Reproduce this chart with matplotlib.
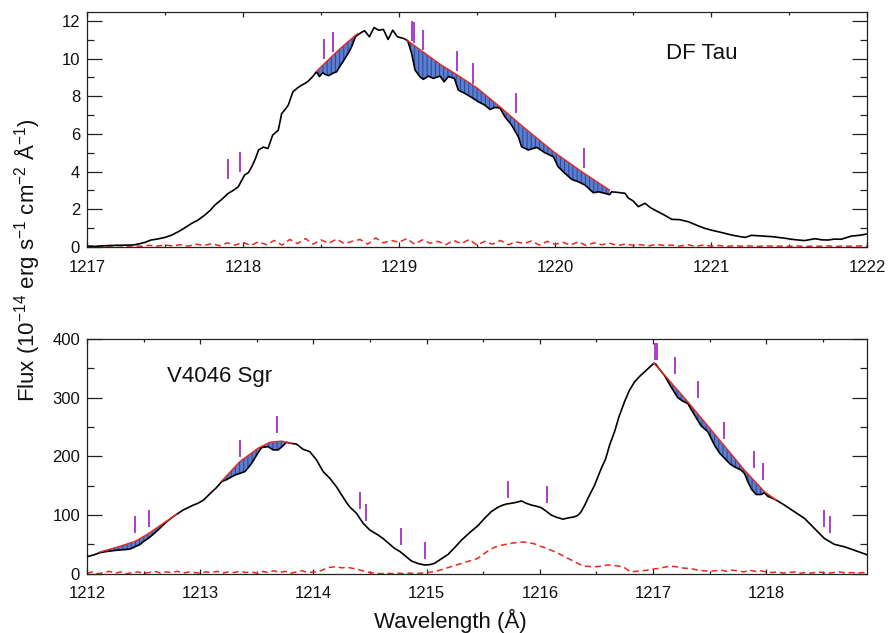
import numpy as np
import matplotlib
matplotlib.use("Agg")
import matplotlib.pyplot as plt

plt.rcParams["font.family"] = ["Liberation Sans", "DejaVu Sans"]
plt.rcParams["mathtext.default"] = "regular"
plt.rcParams["hatch.linewidth"] = 0.7

# ---------------- DF Tau (upper panel) ----------------
df_wave = [
    1217.00, 1217.05, 1217.10, 1217.15, 1217.20, 1217.25, 1217.30, 1217.33, 1217.37, 1217.41,
    1217.45, 1217.50, 1217.54, 1217.585, 1217.62, 1217.67, 1217.71, 1217.756, 1217.79, 1217.82,
    1217.86, 1217.906, 1217.94, 1217.97, 1218.01, 1218.035, 1218.056, 1218.08, 1218.10, 1218.13,
    1218.16, 1218.19, 1218.226, 1218.248, 1218.27, 1218.29, 1218.32, 1218.35, 1218.376, 1218.40,
    1218.42, 1218.45, 1218.47, 1218.49, 1218.51, 1218.53, 1218.55, 1218.575, 1218.60, 1218.62,
    1218.64, 1218.66, 1218.68, 1218.70, 1218.72, 1218.735, 1218.76, 1218.78, 1218.81, 1218.84,
    1218.87, 1218.90, 1218.93, 1218.96, 1218.99, 1219.03, 1219.056, 1219.081, 1219.103, 1219.135,
    1219.156, 1219.188, 1219.22, 1219.263, 1219.29, 1219.316, 1219.355, 1219.38, 1219.423, 1219.466,
    1219.508, 1219.551, 1219.583, 1219.615, 1219.647, 1219.679, 1219.722, 1219.765, 1219.786, 1219.829,
    1219.883, 1219.936, 1219.99, 1220.02, 1220.064, 1220.107, 1220.15, 1220.192, 1220.246, 1220.278,
    1220.32, 1220.35, 1220.363, 1220.40, 1220.449, 1220.47, 1220.50, 1220.534, 1220.577, 1220.61,
    1220.64, 1220.70, 1220.748, 1220.80, 1220.855, 1220.91, 1220.96, 1221.00, 1221.047, 1221.09,
    1221.13, 1221.18, 1221.218, 1221.26, 1221.30, 1221.346, 1221.39, 1221.43, 1221.47, 1221.517,
    1221.56, 1221.60, 1221.667, 1221.71, 1221.75, 1221.79, 1221.835, 1221.87, 1221.90, 1221.95,
    1222.00,
]
df_flux = [
    0.04, 0.03, 0.06, 0.08, 0.09, 0.10, 0.11, 0.16, 0.24, 0.37,
    0.42, 0.51, 0.62, 0.81, 0.98, 1.25, 1.42, 1.70, 1.95, 2.23,
    2.50, 2.85, 3.02, 3.20, 3.82, 3.95, 4.26, 4.70, 5.15, 5.30,
    5.23, 5.94, 6.20, 7.09, 7.30, 7.53, 8.24, 8.45, 8.59, 8.70,
    8.82, 9.08, 9.30, 9.05, 9.25, 9.15, 9.10, 9.22, 9.30, 9.58,
    9.83, 10.10, 10.36, 10.70, 11.16, 11.25, 11.40, 11.48, 11.16, 11.65,
    11.51, 11.55, 11.02, 11.51, 11.16, 11.07, 10.95, 10.27, 9.39, 9.03,
    8.90, 9.07, 8.95, 9.07, 8.77, 9.05, 8.95, 8.33, 8.15, 7.94,
    7.71, 7.53, 7.30, 7.41, 7.38, 6.91, 6.47, 5.85, 5.32, 5.15,
    5.29, 5.00, 4.79, 4.26, 3.91, 3.59, 3.46, 3.29, 2.88, 2.93,
    2.85, 2.78, 2.93, 2.90, 2.85, 2.60, 2.45, 2.14, 2.32, 2.10,
    1.96, 1.70, 1.47, 1.45, 1.34, 1.15, 0.99, 0.90, 0.81, 0.72,
    0.64, 0.56, 0.51, 0.62, 0.60, 0.58, 0.55, 0.51, 0.47, 0.41,
    0.37, 0.34, 0.44, 0.38, 0.37, 0.42, 0.41, 0.50, 0.58, 0.62,
    0.69,
]

# reconstructed (unabsorbed) profile segments
df_fit_a_wave = [1218.47, 1218.54, 1218.60, 1218.67, 1218.735]
df_fit_a_flux = [9.32, 9.88, 10.36, 10.88, 11.33]
df_fit_b_wave = [1219.056, 1219.26, 1219.37, 1219.50, 1219.65, 1219.80, 1220.00, 1220.18, 1220.35]
df_fit_b_flux = [10.95, 9.72, 9.15, 8.45, 7.42, 6.35, 5.00, 3.95, 3.02]

# H2 line positions and the flux level at the foot of each marker
df_lines_wave = [1217.906, 1217.983, 1218.521, 1218.575, 1219.085, 1219.097,
                 1219.156, 1219.37, 1219.477, 1219.748, 1220.186]
df_lines_base = [3.59, 4.00, 9.97, 10.35, 10.95, 10.85, 10.45, 9.35, 8.68, 7.09, 4.17]

# 1-sigma uncertainty, 1217.00 -> 1222.00 in 0.05 A steps
df_err = [
    0.03, 0.06, 0.02, 0.05, 0.08, 0.03, 0.06, 0.04, 0.09, 0.05, 0.10,
    0.06, 0.12, 0.05, 0.15, 0.08, 0.18, 0.07, 0.22, 0.10, 0.25,
    0.08, 0.28, 0.12, 0.35, 0.10, 0.40, 0.18, 0.45, 0.15, 0.38,
    0.20, 0.42, 0.18, 0.30, 0.40, 0.15, 0.48, 0.22, 0.35, 0.25,
    0.45, 0.15, 0.38, 0.20, 0.30, 0.12, 0.35, 0.18, 0.40, 0.10,
    0.30, 0.15, 0.35, 0.12, 0.28, 0.18, 0.32, 0.10, 0.30, 0.14,
    0.25, 0.10, 0.28, 0.08, 0.22, 0.12, 0.20, 0.08, 0.15, 0.10,
    0.12, 0.06, 0.14, 0.08, 0.10, 0.05, 0.12, 0.04, 0.10, 0.05,
    0.08, 0.03, 0.07, 0.04, 0.06, 0.03, 0.07, 0.04, 0.05, 0.03,
    0.06, 0.03, 0.05, 0.04, 0.06, 0.03, 0.05, 0.04, 0.06, 0.05,
]
df_err_wave = np.linspace(1217.0, 1222.0, len(df_err))

# ---------------- V4046 Sgr (lower panel) ----------------
v_wave = [
    1212.00, 1212.06, 1212.115, 1212.18, 1212.262, 1212.33, 1212.38, 1212.424, 1212.47, 1212.50,
    1212.54, 1212.59, 1212.63, 1212.70, 1212.76, 1212.79, 1212.85, 1212.94, 1212.98, 1213.03,
    1213.09, 1213.14, 1213.19, 1213.23, 1213.306, 1213.35, 1213.395, 1213.43, 1213.454, 1213.498,
    1213.542, 1213.60, 1213.644, 1213.688, 1213.72, 1213.762, 1213.806, 1213.85, 1213.909, 1213.968,
    1214.027, 1214.086, 1214.145, 1214.204, 1214.29, 1214.32, 1214.38, 1214.439, 1214.498, 1214.571,
    1214.615, 1214.718, 1214.763, 1214.866, 1214.93, 1214.983, 1215.03, 1215.07, 1215.12, 1215.19,
    1215.25, 1215.307, 1215.38, 1215.454, 1215.51, 1215.572, 1215.62, 1215.66, 1215.71, 1215.748,
    1215.80, 1215.837, 1215.88, 1215.925, 1215.97, 1216.013, 1216.06, 1216.10, 1216.15, 1216.204,
    1216.25, 1216.307, 1216.34, 1216.366, 1216.40, 1216.425, 1216.484, 1216.543, 1216.58, 1216.616,
    1216.66, 1216.70, 1216.748, 1216.79, 1216.837, 1216.88, 1216.925, 1216.96, 1217.007, 1217.025,
    1217.043, 1217.101, 1217.16, 1217.219, 1217.263, 1217.307, 1217.366, 1217.425, 1217.484, 1217.543,
    1217.59, 1217.631, 1217.68, 1217.72, 1217.778, 1217.81, 1217.837, 1217.87, 1217.911, 1217.955,
    1217.984, 1218.013, 1218.05, 1218.087, 1218.16, 1218.249, 1218.337, 1218.425, 1218.514, 1218.602,
    1218.69, 1218.778, 1218.88, 1218.90,
]
v_flux = [
    29, 32, 36, 38, 40, 41, 42, 46, 50, 55,
    60, 68, 75, 88, 97, 101, 108.6, 117, 120, 125.6,
    137, 146, 157, 160, 168, 171, 174, 182, 188, 202,
    215, 216.5, 211, 211, 216, 224, 222, 221, 212, 208,
    194, 174, 162.6, 148, 122, 114, 103, 86, 74.5, 66,
    60, 43, 38, 21.6, 17, 14.8, 15.5, 17.7, 24, 33,
    45, 57, 70, 82, 94, 106, 112, 116, 119, 120,
    122, 124, 120, 117, 115, 112.5, 106, 100, 96, 93,
    95, 97, 100, 106, 118, 128.5, 151, 179.6, 195, 219,
    242, 268, 293, 312, 327, 336, 344, 350, 358.6, 357,
    352, 338, 318, 300, 294, 290, 270.5, 252, 242, 219,
    205, 196.7, 187, 182, 176.7, 170, 157, 144, 135, 135,
    138, 132, 129, 125.6, 117, 105.7, 94.4, 77.4, 60, 50,
    46, 40, 33, 31,
]

v_fit_a_wave = [1212.115, 1212.262, 1212.424, 1212.54, 1212.63, 1212.79]
v_fit_a_flux = [37, 45, 55, 68, 80, 101]
v_fit_b_wave = [1213.19, 1213.35, 1213.51, 1213.615, 1213.718, 1213.806]
v_fit_b_flux = [158, 191, 213.7, 224, 226, 222]
v_fit_c_wave = [1217.007, 1217.05, 1217.307, 1217.60, 1217.807, 1217.984, 1218.087]
v_fit_c_flux = [358.6, 350, 293, 225, 176.7, 139.8, 125.6]

v_lines_wave = [1212.424, 1212.544, 1213.35, 1213.674, 1214.415, 1214.462, 1214.777,
                1214.99, 1215.719, 1216.063, 1217.02, 1217.035, 1217.196, 1217.399,
                1217.631, 1217.89, 1217.97, 1218.508, 1218.56]
v_lines_base = [70, 80, 199.4, 239.3, 109.7, 89.3, 49.4,
                24.5, 129.5, 120, 365, 365, 340, 300,
                229.6, 179.6, 160, 80, 70]

# 1-sigma uncertainty, 1212.00 -> 1218.90 in 0.05 A steps
v_err = [
    1, 3, 0, 2, 4, 1, 3, 0, 2, 3, 1,
    2, 4, 1, 3, 2, 4, 1, 3, 2, 1,
    3, 2, 4, 1, 3, 2, 4, 2, 3, 1,
    4, 2, 5, 2, 4, 1, 3, 5, 2, 3,
    4, 8, 11, 12, 10, 11, 9, 7, 4, 2,
    1, 0, 1, 0, 1, 0, 1, 0, 1, 2,
    3, 5, 8, 11, 14, 17, 20, 23, 26, 33,
    40, 45, 48, 50, 52, 53, 54, 53, 51, 47,
    44, 40, 36, 31, 26, 21, 16, 13, 12, 12,
    13, 15, 14, 13, 10, 3, 4, 5, 6, 8,
    9, 11, 13, 12, 10, 9, 8, 6, 5, 4,
    5, 6, 4, 6, 5, 3, 6, 4, 5, 3,
    2, 3, 1, 2, 3, 1, 2, 1, 3, 2,
    1, 2, 3, 1, 2, 1, 2, 1,
]
v_err_wave = np.linspace(1212.0, 1218.9, len(v_err))

# ---------------- styling ----------------
FILL_FACE = "#5a7ed2"
FILL_HATCH = "#2c4590"
FIT_RED = "#e8281e"
ERR_RED = "#e8281e"
LINE_PURPLE = "#a52ec8"

W, H = 889, 633
fig = plt.figure(figsize=(W / 100, H / 100), dpi=100)
ax1 = fig.add_axes([87 / W, 1 - 247 / H, 780 / W, (247 - 12.3) / H])
ax2 = fig.add_axes([87 / W, 1 - 573.7 / H, 780 / W, (573.7 - 339) / H])


def shade(ax, wave, flux, fit_wave, fit_flux):
    wave = np.asarray(wave, float)
    flux = np.asarray(flux, float)
    fw = np.asarray(fit_wave, float)
    ff = np.asarray(fit_flux, float)
    inside = (wave >= fw[0]) & (wave <= fw[-1])
    xs = np.union1d(wave[inside], fw)
    d = np.interp(xs, wave, flux)
    f = np.interp(xs, fw, ff)
    ax.fill_between(xs, d, f, where=d <= f, interpolate=True, facecolor=FILL_FACE,
                    edgecolor=FILL_HATCH, hatch="||||", linewidth=0, zorder=1)
    ax.plot(fw, ff, color=FIT_RED, lw=1.0, zorder=4)


def draw_panel(ax, wave, flux, fits, err_wave, err, lines_wave, lines_base, mark_len):
    ax.plot(err_wave, err, color=ERR_RED, lw=1.1, dashes=(4, 2.5), zorder=2)
    for fw, ff in fits:
        shade(ax, wave, flux, fw, ff)
    ax.plot(wave, flux, color="black", lw=1.2, zorder=3)
    base = np.asarray(lines_base, float)
    ax.vlines(lines_wave, base, base + mark_len, color=LINE_PURPLE, lw=1.3, zorder=5)


draw_panel(ax1, df_wave, df_flux,
           [(df_fit_a_wave, df_fit_a_flux), (df_fit_b_wave, df_fit_b_flux)],
           df_err_wave, df_err, df_lines_wave, df_lines_base, 1.07)
draw_panel(ax2, v_wave, v_flux,
           [(v_fit_a_wave, v_fit_a_flux), (v_fit_b_wave, v_fit_b_flux),
            (v_fit_c_wave, v_fit_c_flux)],
           v_err_wave, v_err, v_lines_wave, v_lines_base, 29)

ax1.set_xlim(1217, 1222)
ax1.set_ylim(0, 12.46)
ax1.set_xticks(np.arange(1217, 1222.5, 1))
ax1.set_xticks(np.arange(1217, 1222.01, 0.5), minor=True)
ax1.set_yticks(np.arange(0, 12.5, 2))
ax1.set_yticks(np.arange(0, 12.5, 1), minor=True)

ax2.set_xlim(1212, 1218.89)
ax2.set_ylim(0, 400)
ax2.set_xticks(np.arange(1212, 1219, 1))
ax2.set_xticks(np.arange(1212, 1218.9, 0.5), minor=True)
ax2.set_yticks(np.arange(0, 401, 100))
ax2.set_yticks(np.arange(0, 401, 50), minor=True)

for ax in (ax1, ax2):
    for s in ax.spines.values():
        s.set_linewidth(0.9)
        s.set_color("#222222")
    ax.tick_params(axis="both", which="both", direction="in", top=True, right=True,
                   colors="#222222", labelcolor="#111111", labelsize=12, width=0.9)
    ax.tick_params(axis="x", which="major", length=3.6, pad=9)
    ax.tick_params(axis="x", which="minor", length=2.2)
    ax.tick_params(axis="y", which="major", length=10.8, pad=5)
    ax.tick_params(axis="y", which="minor", length=5.3)
    ax.xaxis.set_major_formatter(matplotlib.ticker.FormatStrFormatter("%d"))
    ax.yaxis.set_major_formatter(matplotlib.ticker.FormatStrFormatter("%d"))

ax1.text(0.788, 0.799, "DF Tau", transform=ax1.transAxes, fontsize=16,
         ha="center", va="baseline", color="#111111")
ax2.text(0.17, 0.817, "V4046 Sgr", transform=ax2.transAxes, fontsize=16,
         ha="center", va="baseline", color="#111111")

fig.text(0.507, 0.019, "Wavelength (Å)", fontsize=16, ha="center", va="center",
         color="#111111")
fig.text(0.03, 1 - 260 / H,
         r"Flux (10$^{-14}$ erg s$^{-1}$ cm$^{-2}$ Å$^{-1}$)",
         fontsize=16, rotation=90, ha="center", va="center", color="#111111")

fig.savefig("out.png", dpi=100, facecolor="white")
